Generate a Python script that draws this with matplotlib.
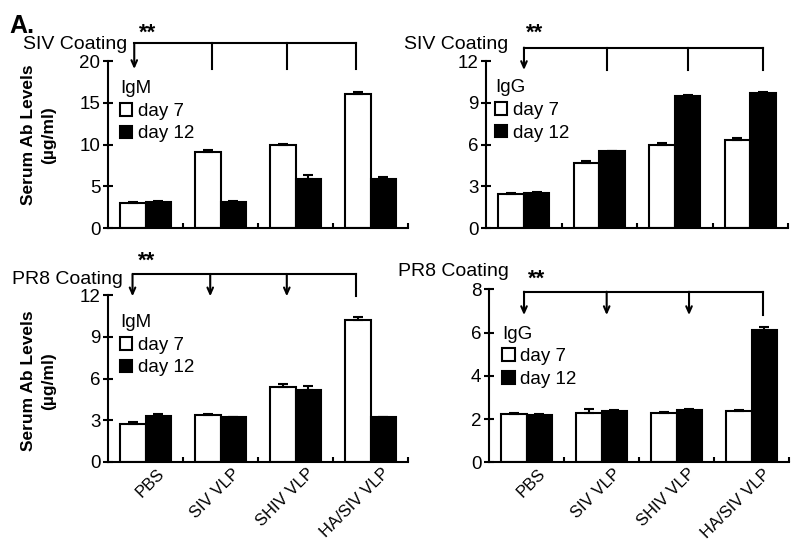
import matplotlib
matplotlib.use('Agg')
import matplotlib.pyplot as plt
import matplotlib.transforms as mtransforms
import numpy as np

plt.rcParams['font.family'] = ['Liberation Sans', 'DejaVu Sans']

categories = ['PBS', 'SIV VLP', 'SHIV VLP', 'HA/SIV VLP']
series_labels = ['day 7', 'day 12']

siv_igm_day7 = [3.0, 9.1, 10.0, 16.0]
siv_igm_day12 = [3.1, 3.1, 5.9, 5.9]
siv_igm_err7 = [0.1, 0.25, 0.05, 0.3]
siv_igm_err12 = [0.1, 0.1, 0.4, 0.2]

siv_igg_day7 = [2.45, 4.7, 6.0, 6.35]
siv_igg_day12 = [2.55, 5.5, 9.5, 9.7]
siv_igg_err7 = [0.03, 0.1, 0.08, 0.15]
siv_igg_err12 = [0.05, 0.05, 0.05, 0.05]

pr8_igm_day7 = [2.75, 3.35, 5.4, 10.2]
pr8_igm_day12 = [3.3, 3.2, 5.2, 3.2]
pr8_igm_err7 = [0.1, 0.08, 0.2, 0.2]
pr8_igm_err12 = [0.12, 0.05, 0.25, 0.05]

pr8_igg_day7 = [2.25, 2.3, 2.3, 2.38]
pr8_igg_day12 = [2.2, 2.35, 2.42, 6.1]
pr8_igg_err7 = [0.03, 0.15, 0.03, 0.04]
pr8_igg_err12 = [0.04, 0.06, 0.03, 0.15]

fig = plt.figure(figsize=(8, 5.44), dpi=100)

panels = [
    dict(rect=[108/800, 1-228/544, 300/800, 167/544], d7=siv_igm_day7, d12=siv_igm_day12,
         e7=siv_igm_err7, e12=siv_igm_err12, ylim=20, yticks=[0, 5, 10, 15, 20],
         coat='SIV Coating', iso='IgM', coat_xy=(0.063, 1.098),
         bx=[-0.15, 0.88, 1.89, 2.81], btop=1.108, bbot=0.952, arrows=[True, False, False, False],
         stars=(0.027, 1.168), leg=(0.04, 0.885), xlab=False, ylab=(-0.173, 0.557)),
    dict(rect=[486/800, 1-228/544, 302/800, 167/544], d7=siv_igg_day7, d12=siv_igg_day12,
         e7=siv_igg_err7, e12=siv_igg_err12, ylim=12, yticks=[0, 3, 6, 9, 12],
         coat='SIV Coating', iso='IgG', coat_xy=(0.073, 1.10),
         bx=[0.003, 1.10, 2.18, 3.17], btop=1.080, bbot=0.946, arrows=[True, False, False, False],
         stars=(0.149, 1.168), leg=(0.03, 0.89), xlab=False, ylab=None),
    dict(rect=[108/800, 1-462/544, 300/800, 167/544], d7=pr8_igm_day7, d12=pr8_igm_day12,
         e7=pr8_igm_err7, e12=pr8_igm_err12, ylim=12, yticks=[0, 3, 6, 9, 12],
         coat='PR8 Coating', iso='IgM', coat_xy=(0.05, 1.09),
         bx=[-0.173, 0.863, 1.884, 2.80], btop=1.126, bbot=0.992, arrows=[True, True, True, False],
         stars=(0.009, 1.20), leg=(0.04, 0.885), xlab=True, ylab=(-0.173, 0.485)),
    dict(rect=[489/800, 1-462.3/544, 300/800, 173/544], d7=pr8_igg_day7, d12=pr8_igg_day12,
         e7=pr8_igg_err7, e12=pr8_igg_err12, ylim=8, yticks=[0, 2, 4, 6, 8],
         coat='PR8 Coating', iso='IgG', coat_xy=(0.067, 1.10),
         bx=[-0.033, 1.069, 2.167, 3.149], btop=0.986, bbot=0.851, arrows=[True, True, True, False],
         stars=(0.136, 1.058), leg=(0.045, 0.79), xlab=True, ylab=None),
]

w = 0.34
x = np.arange(len(categories))
for p in panels:
    ax = fig.add_axes(p['rect'])
    ekw = dict(elinewidth=1.5, capthick=1.5, ecolor='black')
    b1 = ax.bar(x - w/2, p['d7'], w, color='white', edgecolor='black', linewidth=1.5,
                yerr=[np.zeros(4), p['e7']], capsize=3.5, error_kw=ekw, label=series_labels[0])
    b2 = ax.bar(x + w/2, p['d12'], w, color='black', edgecolor='black', linewidth=1.5,
                yerr=[np.zeros(4), p['e12']], capsize=3.5, error_kw=ekw, label=series_labels[1])
    ax.set_xlim(-0.5, 3.5)
    ax.set_ylim(0, p['ylim'])
    ax.set_yticks(p['yticks'])
    for s in ['top', 'right']:
        ax.spines[s].set_visible(False)
    for s in ['left', 'bottom']:
        ax.spines[s].set_linewidth(1.5)
    ax.tick_params(axis='y', direction='inout', length=7, width=1.5, labelsize=13.5, pad=2)
    ax.set_xticks([0.5, 1.5, 2.5, 3.5])
    ax.tick_params(axis='x', which='major', direction='in', length=3.5, width=1.5, labelbottom=False)
    ax.set_xticks(x, minor=True)
    ax.tick_params(axis='x', which='minor', length=0)
    if p['xlab']:
        ax.set_xticklabels(categories, minor=True, rotation=45, ha='right',
                           rotation_mode='anchor', fontsize=12)
        off = mtransforms.ScaledTranslation(11/100, 1/100, fig.dpi_scale_trans)
        for lab in ax.get_xticklabels(minor=True):
            lab.set_transform(lab.get_transform() + off)
    else:
        ax.set_xticklabels([], minor=True)
    if p['ylab']:
        ax.set_ylabel('Serum Ab Levels\n(µg/ml)', fontsize=12.5, fontweight='bold', linespacing=1.45)
        ax.yaxis.set_label_coords(*p['ylab'])
    leg = ax.legend(handles=[b1, b2], title=p['iso'], loc='upper left', bbox_to_anchor=p['leg'],
                    frameon=False, fontsize=13.5, title_fontsize=13.5, alignment='left',
                    handlelength=0.65, handleheight=0.65, handletextpad=0.3,
                    labelspacing=0.3, borderpad=0, borderaxespad=0)
    # bracket annotation
    tr = mtransforms.blended_transform_factory(ax.transData, ax.transAxes)
    ax.plot([p['bx'][0], p['bx'][-1]], [p['btop'], p['btop']], color='black', lw=1.5,
            transform=tr, clip_on=False, solid_capstyle='projecting')
    for bxi, arr in zip(p['bx'], p['arrows']):
        if arr:
            ax.annotate('', xy=(bxi, p['bbot']), xytext=(bxi, p['btop']), xycoords=tr, textcoords=tr,
                        arrowprops=dict(arrowstyle='->,head_length=0.45,head_width=0.2', lw=1.5,
                                        color='black', shrinkA=0, shrinkB=0),
                        annotation_clip=False)
        else:
            ax.plot([bxi, bxi], [p['btop'], p['bbot']], color='black', lw=1.5,
                    transform=tr, clip_on=False)
    ax.text(p['stars'][0], p['stars'][1], '**', transform=tr, ha='center', va='center',
            fontsize=16, fontweight='bold')
    ax.text(p['coat_xy'][0], p['coat_xy'][1], p['coat'], transform=ax.transAxes,
            ha='right', va='center', fontsize=14)

fig.text(0.012, 1 - 33/544, 'A.', fontsize=18, fontweight='bold', va='baseline', ha='left')

fig.savefig('out.png', dpi=100)
